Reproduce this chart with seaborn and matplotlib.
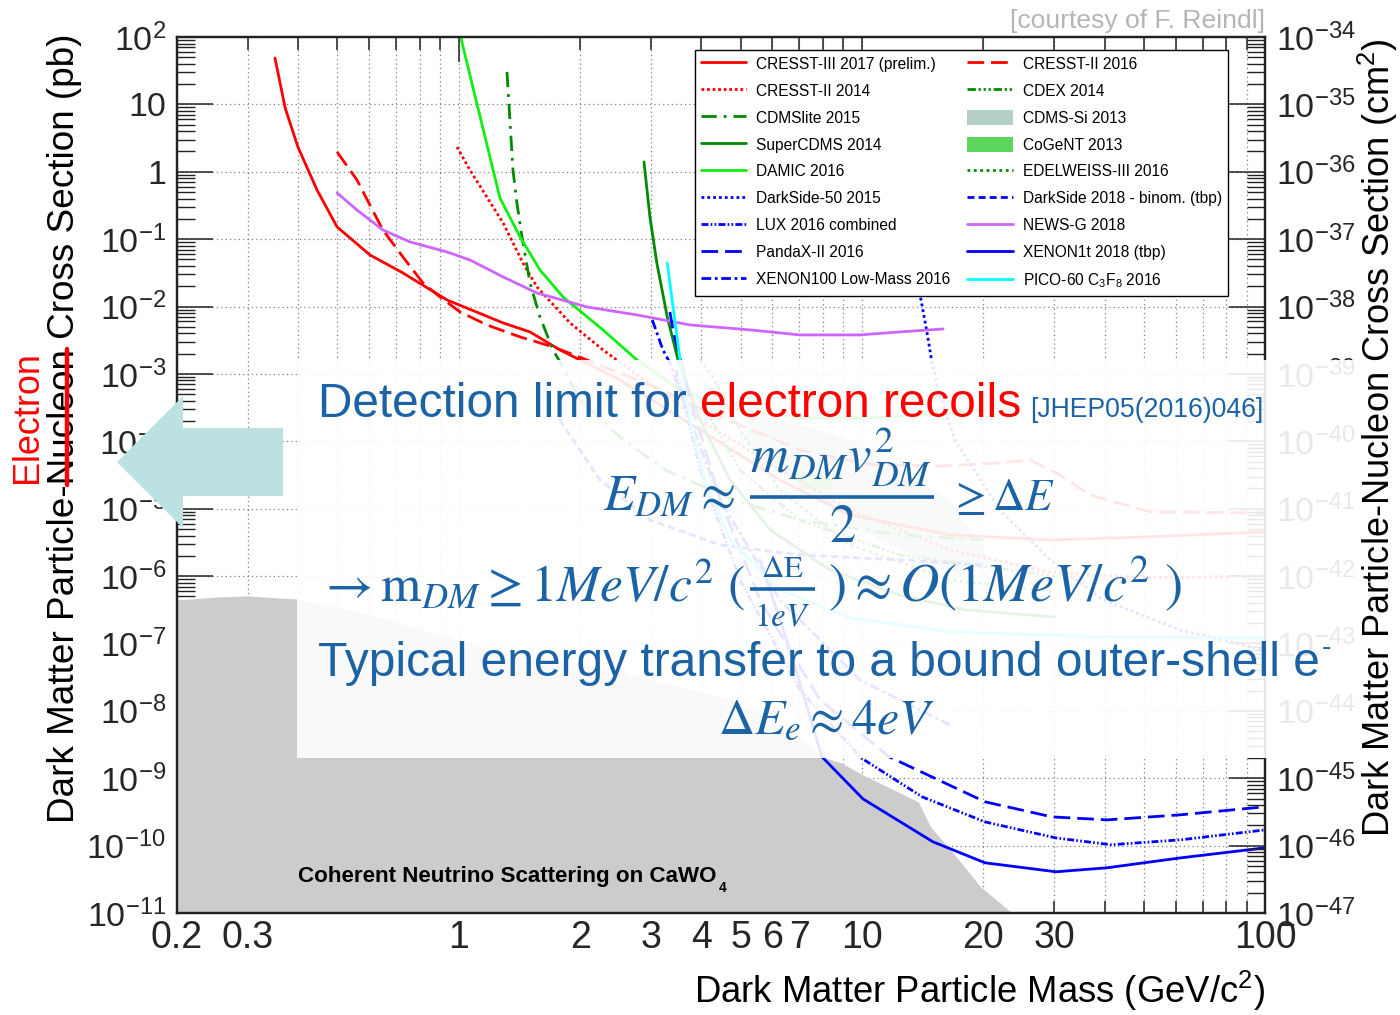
import numpy as np
import pandas as pd
import matplotlib
matplotlib.use("Agg")
import matplotlib.pyplot as plt
import seaborn as sns
from matplotlib import font_manager
from matplotlib.lines import Line2D
from matplotlib.patches import Patch, Polygon, Rectangle
from matplotlib.ticker import FixedLocator, FuncFormatter, LogLocator, NullFormatter

# ---------------- data (mass in GeV/c^2, cross section in pb) ----------------
cresst3_mass = [0.350, 0.371, 0.399, 0.445, 0.499, 0.602, 0.727, 0.935, 1.288, 1.502, 1.782, 2.51, 3.97, 6.26, 9.34, 16.5, 29.3, 51.8, 100]
cresst3_xsec = [48.8, 8.85, 2.33, 0.537, 0.152, 0.0583, 0.0315, 0.01253, 0.00571, 0.0042, 0.00227, 8.15e-4, 1.48e-4, 2.67e-5, 8.09e-6, 4.09e-6, 3.44e-6, 3.82e-6, 4.53e-6]

cresst2016_mass = [0.499, 0.559, 0.648, 0.727, 0.815, 0.898, 1.007, 1.175, 1.419, 1.713, 2.08, 2.98, 4.22, 7.02, 10.6, 15.7, 22.0, 26.1, 31.0, 36.8, 51.8, 100]
cresst2016_xsec = [1.97, 0.756, 0.137, 0.0544, 0.0224, 0.01387, 0.00832, 0.00533, 0.00354, 0.00252, 0.00161, 6.87e-4, 2.64e-4, 7.45e-5, 4.47e-5, 4.31e-5, 4.78e-5, 5.3e-5, 3.17e-5, 1.6e-5, 8.97e-6, 8.67e-6]

cresst2014_mass = [0.99, 1.066, 1.288, 1.443, 1.563, 1.888, 2.279, 2.815, 3.97, 6.26, 9.34, 16.5, 29.3, 51.8, 100]
cresst2014_xsec = [2.33, 1.06, 0.174, 0.0443, 0.01954, 0.00571, 0.00227, 9.02e-4, 2.08e-4, 3.76e-5, 9.6e-6, 2.45e-6, 1.15e-6, 9.4e-7, 1.0e-6]

damic_mass = [1.0, 1.265, 1.419, 1.59, 1.814, 2.279, 2.768, 3.54, 4.98, 7.02, 10.5, 15.6, 20.2]
damic_xsec = [130, 0.409, 0.108, 0.0349, 0.01387, 0.0045, 0.00161, 5.79e-4, 2.92e-4, 2.22e-4, 2.22e-4, 2.55e-4, 2.92e-4]

cdmslite_mass = [1.317, 1.363, 1.394, 1.435, 1.502, 1.59, 1.713, 1.782, 2.0, 2.51, 3.25, 4.82, 7.02, 12.4, 20.0]
cdmslite_xsec = [30.3, 1.06, 0.344, 0.108, 0.0224, 0.00701, 0.00227, 0.00151, 4.11e-4, 1.16e-4, 3.76e-5, 1.35e-5, 6.8e-6, 4.09e-6, 3.44e-6]

supercdms_mass = [2.88, 2.98, 3.10, 3.29, 3.50, 3.97, 4.71, 5.92, 8.33, 12.4, 18.0, 30.0]
supercdms_xsec = [1.40, 0.2135, 0.0443, 0.00701, 0.00161, 2.08e-4, 2.67e-5, 4.85e-6, 1.24e-6, 5.26e-7, 3.15e-7, 2.48e-7]

pico_mass = [3.29, 3.54, 3.75, 4.08, 4.71, 6.26, 9.34, 16.5, 39.0, 100]
pico_xsec = [0.0443, 0.00161, 2.08e-4, 2.67e-5, 3.44e-6, 6.24e-7, 2.4e-7, 1.49e-7, 1.25e-7, 1.21e-7]

xenon100_mass = [3.02, 3.21, 3.34, 3.75, 4.45, 6.26, 9.89, 16.5]
xenon100_xsec = [0.00633, 0.00227, 0.00146, 2.08e-4, 1.35e-5, 4.43e-7, 2.88e-8, 6.2e-9]

pandax_mass = [3.34, 3.40, 3.75, 4.45, 5.59, 7.87, 11.68, 20.2, 29.6, 40.6, 61.9, 100]
pandax_xsec = [0.00832, 0.0045, 4.11e-4, 1.35e-5, 4.43e-7, 1.46e-8, 2.08e-9, 4.47e-10, 2.67e-10, 2.41e-10, 2.87e-10, 3.77e-10]

lux_mass = [3.46, 3.97, 4.98, 7.02, 9.95, 14.1, 20.2, 30.3, 41.5, 61.9, 100]
lux_xsec = [0.00115, 3.76e-5, 8.8e-7, 2.05e-8, 2.01e-9, 5.3e-10, 2.25e-10, 1.3e-10, 1.03e-10, 1.22e-10, 1.71e-10]

xenon1t_mass = [5.59, 6.63, 7.22, 7.96, 10.06, 15.0, 20.2, 30.3, 40.6, 61.9, 100]
xenon1t_xsec = [1.74e-6, 8.0e-8, 1.46e-8, 2.08e-9, 4.94e-10, 1.14e-10, 5.56e-11, 4.09e-11, 4.69e-11, 6.59e-11, 9.27e-11]

ds50_mass = [13.6, 13.9, 14.5, 14.9, 15.5, 17.0, 22.0, 29.3, 39.6, 61.5, 100]
ds50_xsec = [0.0294, 0.0165, 0.0042, 0.00156, 5.6e-4, 1.05e-4, 9.6e-6, 1.74e-6, 4.43e-7, 1.59e-7, 8.0e-8]

ds2018_mass = [1.78, 2.24, 2.98, 4.45, 7.02, 12.4, 20.0]
ds2018_xsec = [2.07e-4, 2.67e-5, 6.8e-6, 2.9e-6, 2.06e-6, 1.74e-6, 1.47e-6]

edelweiss_mass = [3.97, 4.27, 4.98, 6.26, 9.34, 16.5, 30.0]
edelweiss_xsec = [0.00161, 9.0e-4, 1.48e-4, 1.9e-5, 2.9e-6, 8.8e-7, 5.83e-7]

cdex_mass = [3.97, 4.98, 7.02, 12.4, 30.0]
cdex_xsec = [4.11e-4, 3.76e-5, 6.8e-6, 2.06e-6, 1.0e-6]

newsg_mass = [0.499, 0.559, 0.648, 0.757, 0.935, 1.066, 1.288, 1.563, 2.08, 2.768, 3.75, 5.28, 7.02, 9.89, 12.4, 15.9]
newsg_xsec = [0.485, 0.271, 0.137, 0.0909, 0.0646, 0.0491, 0.0275, 0.0159, 0.00986, 0.0075, 0.00533, 0.0045, 0.00379, 0.00379, 0.0042, 0.00465]

cdmssi_mass = [5.28, 9.34, 16.5, 20.8, 17.5, 11.1, 7.02, 5.13]
cdmssi_xsec = [2.92e-4, 1.05e-4, 1.35e-5, 1.74e-6, 1.04e-6, 3.44e-6, 1.9e-5, 1.05e-4]

cogent_mass = [6.82, 8.33, 8.58, 7.02]
cogent_xsec = [3.76e-5, 2.86e-5, 1.77e-5, 2.04e-5]

nu_mass = [0.2, 0.2556, 0.300, 0.354, 0.397, 0.589, 1.09, 2.23, 4.71, 6.63, 7.96, 8.88, 10.06, 13.8, 14.8, 17.4, 19.7, 23.6]
nu_xsec = [4.43e-7, 4.91e-7, 5.08e-7, 4.75e-7, 4.59e-7, 2.75e-7, 9.5e-8, 4.35e-8, 1.51e-8, 5.2e-9, 2.08e-9, 1.69e-9, 1.12e-9, 4.47e-10, 1.9e-10, 6.15e-11, 2.45e-11, 1.0e-11]

x_major_ticks = [1, 10, 100]
x_minor_ticks = [0.2, 0.3, 0.4, 0.5, 0.6, 0.7, 0.8, 0.9, 2, 3, 4, 5, 6, 7, 8, 9, 20, 30, 40, 50, 60, 70, 80, 90]
x_labelled = [0.2, 0.3, 1, 2, 3, 4, 5, 6, 7, 10, 20, 30, 100]

legend_col1 = ['CRESST-III 2017 (prelim.)', 'CRESST-II 2014', 'CDMSlite 2015', 'SuperCDMS 2014',
               'DAMIC 2016', 'DarkSide-50 2015', 'LUX 2016 combined', 'PandaX-II 2016',
               'XENON100 Low-Mass 2016']
legend_col2 = ['CRESST-II 2016', 'CDEX 2014', 'CDMS-Si 2013', 'CoGeNT 2013', 'EDELWEISS-III 2016',
               'DarkSide 2018 - binom. (tbp)', 'NEWS-G 2018', 'XENON1t 2018 (tbp)',
               'PICO-60 C$_3$F$_8$ 2016']

curves = [
    ('CRESST-III 2017 (prelim.)', cresst3_mass, cresst3_xsec),
    ('CRESST-II 2016', cresst2016_mass, cresst2016_xsec),
    ('CRESST-II 2014', cresst2014_mass, cresst2014_xsec),
    ('CDEX 2014', cdex_mass, cdex_xsec),
    ('EDELWEISS-III 2016', edelweiss_mass, edelweiss_xsec),
    ('CDMSlite 2015', cdmslite_mass, cdmslite_xsec),
    ('DAMIC 2016', damic_mass, damic_xsec),
    ('SuperCDMS 2014', supercdms_mass, supercdms_xsec),
    ('DarkSide 2018 - binom. (tbp)', ds2018_mass, ds2018_xsec),
    ('DarkSide-50 2015', ds50_mass, ds50_xsec),
    ('NEWS-G 2018', newsg_mass, newsg_xsec),
    ('XENON100 Low-Mass 2016', xenon100_mass, xenon100_xsec),
    ('LUX 2016 combined', lux_mass, lux_xsec),
    ('PandaX-II 2016', pandax_mass, pandax_xsec),
    ('XENON1t 2018 (tbp)', xenon1t_mass, xenon1t_xsec),
    ('PICO-60 C$_3$F$_8$ 2016', pico_mass, pico_xsec),
]

# ---------------- styles ----------------
RED, DGREEN, LGREEN, BLUE, VIOLET, CYAN = '#ff0000', '#008a00', '#11ee11', '#0000ff', '#cc66ff', '#00ffff'
STYLE = {
    'CRESST-III 2017 (prelim.)': (RED, ''),
    'CRESST-II 2016': (RED, (6, 2.5)),
    'CRESST-II 2014': (RED, (1, 1)),
    'CDEX 2014': (DGREEN, (3, 1, 0.8, 1, 0.8, 1, 0.8, 1)),
    'EDELWEISS-III 2016': (DGREEN, (1, 1.3)),
    'CDMSlite 2015': (DGREEN, (5.5, 2.5, 1, 2.5)),
    'DAMIC 2016': (LGREEN, ''),
    'SuperCDMS 2014': (DGREEN, ''),
    'DarkSide 2018 - binom. (tbp)': (BLUE, (2.5, 1.5)),
    'DarkSide-50 2015': (BLUE, (1, 1.1)),
    'NEWS-G 2018': (VIOLET, ''),
    'XENON100 Low-Mass 2016': (BLUE, (3.5, 1.3, 1, 1.3)),
    'LUX 2016 combined': (BLUE, (2.5, 0.8, 0.6, 0.8, 0.6, 0.8)),
    'PandaX-II 2016': (BLUE, (6, 2.5)),
    'XENON1t 2018 (tbp)': (BLUE, ''),
    'PICO-60 C$_3$F$_8$ 2016': (CYAN, ''),
}
FILLS = {'CDMS-Si 2013': '#b3cfc6', 'CoGeNT 2013': '#5cd65c'}

# ---------------- fonts ----------------
sns.set_theme(style='white')


def have(name):
    try:
        font_manager.findfont(font_manager.FontProperties(family=name), fallback_to_default=False)
        return True
    except Exception:
        return False


ROOT_FONT = 'Liberation Sans' if have('Liberation Sans') else 'DejaVu Sans'
PPT_FONT = 'Liberation Sans Narrow' if have('Liberation Sans Narrow') else ROOT_FONT
plt.rcParams['font.family'] = [ROOT_FONT, 'DejaVu Sans']
plt.rcParams['mathtext.fontset'] = 'custom'
plt.rcParams['mathtext.rm'] = ROOT_FONT
plt.rcParams['mathtext.it'] = ROOT_FONT + ':italic'
plt.rcParams['mathtext.bf'] = ROOT_FONT + ':bold'
plt.rcParams['text.color'] = 'black'

W, H = 1400, 1015


def fx(px):
    return px / W


def fy(py):
    return 1 - py / H


fig = plt.figure(figsize=(W / 100, H / 100), dpi=100)
fig.patch.set_facecolor('white')
ax = fig.add_axes([fx(177), fy(913), 1088 / W, 876 / H])
ax.set_facecolor('white')

# ---------------- curves via seaborn ----------------
rows = []
for name, m, s in curves:
    for i, (a, b) in enumerate(zip(m, s)):
        rows.append((name, i, a, b))
df = pd.DataFrame(rows, columns=['experiment', 'order', 'mass', 'xsec'])
names = [c[0] for c in curves]
ax.set_xscale('log')
ax.set_yscale('log')

ax.fill_between(nu_mass, nu_xsec, 1e-12, color='#cccccc', lw=0, zorder=2)
ax.fill(cdmssi_mass, cdmssi_xsec, color=FILLS['CDMS-Si 2013'], lw=0, zorder=2.2)
ax.fill(cogent_mass, cogent_xsec, color=FILLS['CoGeNT 2013'], lw=0, zorder=2.3)

sns.lineplot(data=df, x='mass', y='xsec', hue='experiment', style='experiment',
             hue_order=names, style_order=names,
             palette={n: STYLE[n][0] for n in names},
             dashes={n: STYLE[n][1] for n in names},
             sort=False, estimator=None, legend=False, lw=2.0, ax=ax, zorder=3)

ax.set_xlim(0.2, 100)
ax.set_ylim(1e-11, 1e2)
ax.set_xlabel('')
ax.set_ylabel('')

# ---------------- ticks / grid ----------------
TICKC = '#222222'
ax.xaxis.set_major_locator(FixedLocator(x_major_ticks))
ax.xaxis.set_minor_locator(FixedLocator(x_minor_ticks))
xfmt = FuncFormatter(lambda v, p: ('%g' % v) if any(abs(v - l) < 1e-9 for l in x_labelled) else '')
ax.xaxis.set_major_formatter(xfmt)
ax.xaxis.set_minor_formatter(xfmt)
ax.yaxis.set_major_locator(LogLocator(base=10, numticks=100))
ax.yaxis.set_minor_locator(LogLocator(base=10, subs=np.arange(2, 10), numticks=100))
ax.yaxis.set_minor_formatter(NullFormatter())


def yfmt(v, p):
    e = int(round(np.log10(v)))
    if e == 1:
        return '10'
    if e == 0:
        return '1'
    return r'$\mathregular{10^{%d}}$' % e


ax.yaxis.set_major_formatter(FuncFormatter(yfmt))
ax.tick_params(axis='x', which='major', direction='in', length=18, width=1.1, top=True, bottom=True,
               labelsize=27, pad=5, color=TICKC)
ax.tick_params(axis='x', which='minor', direction='in', length=9, width=1.1, top=True, bottom=True,
               labelsize=27, pad=5, color=TICKC)
ax.tick_params(axis='y', which='major', direction='in', length=26, width=1.1, left=True, right=False,
               labelsize=24.5, pad=8, color=TICKC)
ax.tick_params(axis='y', which='minor', direction='in', length=13, width=1.0, left=True, right=False,
               color=TICKC)
ax.set_axisbelow(True)
gkw = dict(linestyle=(0, (1, 2.5)), color='#808080', linewidth=0.9)
ax.grid(True, which='major', axis='both', **gkw)
ax.grid(True, which='minor', axis='x', **gkw)
for sp in ax.spines.values():
    sp.set_linewidth(1.6)
    sp.set_color(TICKC)

ax2 = ax.twinx()
ax2.set_yscale('log')
ax2.set_ylim(1e-47, 1e-34)
ax2.yaxis.set_major_locator(LogLocator(base=10, numticks=100))
ax2.yaxis.set_minor_locator(LogLocator(base=10, subs=np.arange(2, 10), numticks=100))
ax2.yaxis.set_minor_formatter(NullFormatter())
ax2.yaxis.set_major_formatter(FuncFormatter(lambda v, p: r'$\mathregular{10^{%d}}$' % int(round(np.log10(v)))))
ax2.tick_params(axis='y', which='major', direction='in', length=26, width=1.1, right=True, left=False,
                labelsize=24.5, pad=8, color=TICKC)
ax2.tick_params(axis='y', which='minor', direction='in', length=13, width=1.0, right=True, left=False,
                color=TICKC)
ax2.grid(False)
for sp in ax2.spines.values():
    sp.set_linewidth(1.6)
    sp.set_color(TICKC)

# ---------------- legend ----------------


def handle(n):
    if n in FILLS:
        return Patch(facecolor=FILLS[n], edgecolor='none')
    c, d = STYLE[n]
    return Line2D([], [], color=c, lw=2.0, linestyle='-' if d == '' else (0, d))


labels = legend_col1 + legend_col2
leg = ax.legend([handle(n) for n in labels], labels, ncol=2, loc='upper left',
                bbox_to_anchor=(fx(695), fy(50)), bbox_transform=fig.transFigure,
                frameon=True, fancybox=False, edgecolor='black', framealpha=1, fontsize=11.2,
                handlelength=2.9, handleheight=1.1, handletextpad=0.65, columnspacing=1.1,
                labelspacing=0.72, borderpad=0.38, borderaxespad=0)
leg.get_frame().set_linewidth(1.0)
leg.set_zorder(10)

# ---------------- text helpers ----------------
R = fig.canvas.get_renderer()


def fit(t, target, along='w', iters=3):
    for _ in range(iters):
        bb = t.get_window_extent(renderer=R)
        cur = bb.width if along == 'w' else bb.height
        if cur > 0:
            t.set_fontsize(t.get_fontsize() * target / cur)
    return t


def measure(s, size, **kw):
    t = fig.text(0, 0, s, fontsize=size, **kw)
    w = t.get_window_extent(renderer=R).width
    t.remove()
    return w


# axis titles
ylab = fig.text(fx(65), fy(428.5), 'Dark Matter Particle-Nucleon Cross Section (pb)', rotation=90,
                ha='center', va='center', fontsize=22, zorder=20)
fit(ylab, 787, 'h')
ylab_bb = ylab.get_window_extent(renderer=R)
fs_y = ylab.get_fontsize()
w1 = measure('Dark Matter Particle-', fs_y)
w2 = measure('Nucleon', fs_y)
nuc0 = ylab_bb.y0 + w1
nuc1 = nuc0 + w2
fig.add_artist(Line2D([fx(67), fx(67)], [nuc0 / H, nuc1 / H], color='#ff0000', lw=3.2, zorder=21,
                      transform=fig.transFigure))
el = fig.text(fx(27), (nuc0 + nuc1) / 2 / H, 'Electron', rotation=90, ha='center', va='center',
              color='#ff0000', family=[PPT_FONT, 'DejaVu Sans'], fontsize=22, zorder=20)
fit(el, 132, 'h')

ylab2 = fig.text(fx(1378), fy(437.5), 'Dark Matter Particle-Nucleon Cross Section (cm$^{2}$)', rotation=90,
                 ha='center', va='center', fontsize=22, zorder=20)
fit(ylab2, 800, 'h')

xlab = fig.text(fx(1265), fy(1003), 'Dark Matter Particle Mass (GeV/c$^{2}$)', ha='right', va='baseline',
                fontsize=24, zorder=20)
fit(xlab, 571)

cour = fig.text(fx(1010), fy(21), '[courtesy of F. Reindl]', ha='left', va='center', color='#b5b5b5',
                fontsize=16, zorder=20)
fit(cour, 255)

nu_t = fig.text(fx(298), fy(882), 'Coherent Neutrino Scattering on CaWO', ha='left', va='baseline',
                fontsize=14, fontweight='bold', zorder=3)
fit(nu_t, 419)
nb = nu_t.get_window_extent(renderer=R)
fig.text((nb.x1 + 2) / W, fy(892), '4', ha='left', va='baseline', fontsize=nu_t.get_fontsize() * 0.62,
         fontweight='bold', zorder=3)

# ---------------- slide overlay ----------------
fig.add_artist(Rectangle((fx(297), fy(758)), (1362 - 297) / W, (758 - 360) / H, transform=fig.transFigure,
                         facecolor='white', edgecolor='none', alpha=0.9, zorder=8))

arrow_pts = [(117, 462), (183, 396), (183, 428), (283, 428), (283, 496), (183, 496), (183, 528)]
fig.add_artist(Polygon([(fx(a), fy(b)) for a, b in arrow_pts], closed=True, transform=fig.transFigure,
                       facecolor='#bde0e3', edgecolor='none', zorder=9))

TXT = '#1c63a5'
PPT = [PPT_FONT, 'DejaVu Sans']
full = fig.text(fx(318), fy(417), 'Detection limit for electron recoils', ha='left', va='baseline',
                family=PPT, fontsize=30, color=TXT, zorder=12)
fit(full, 704)
fs1 = full.get_fontsize()
wfull = full.get_window_extent(renderer=R).width
full.set_text('Detection limit for')
fig.text(fx(318) + wfull / W, fy(417), 'electron recoils', ha='right', va='baseline', family=PPT,
         fontsize=fs1, color='#ff0000', zorder=12)
jh = fig.text(fx(1030), fy(417), '[JHEP05(2016)046]', ha='left', va='baseline', family=PPT,
              fontsize=14, color=TXT, zorder=12)
fit(jh, 233)


def mtext(x, y, s, ha, target_w, size=30):
    t = fig.text(fx(x), fy(y), s, ha=ha, va='baseline', fontsize=size, color=TXT,
                 math_fontfamily='stix', zorder=12)
    fit(t, target_w)
    return t


def bar(x0, x1, y):
    fig.add_artist(Line2D([fx(x0), fx(x1)], [fy(y), fy(y)], color=TXT, lw=2.6, zorder=12,
                          transform=fig.transFigure, solid_capstyle='butt'))


# E_DM ~ m v^2 / 2 >= dE
mtext(603, 510, r'$E_{DM} \approx$', 'left', 132)
num1 = mtext(841, 473, r'$m_{DM}v_{DM}^{2}$', 'center', 182)
bar(750, 934, 497)
fig.text(fx(842), fy(542), r'$2$', ha='center', va='baseline', fontsize=num1.get_fontsize(), color=TXT,
         math_fontfamily='stix', zorder=12)
mtext(949, 510, r'$\geq \Delta E$', 'left', 106)

# -> m_DM >= 1MeV/c^2 (dE / 1eV) ~ O(1MeV/c^2)
mtext(318, 602, r'$\rightarrow\mathrm{m}_{DM} \geq 1MeV/c^{2}\ ($', 'left', 426)
mtext(782, 577, r'$\Delta\mathrm{E}$', 'center', 43)
bar(750, 815, 589)
mtext(782, 626, r'$1eV$', 'center', 56)
mtext(828, 602, r'$)\approx O(1MeV/c^{2}\ )$', 'left', 354)

t3 = fig.text(fx(318), fy(676), 'Typical energy transfer to a bound outer-shell e', ha='left',
              va='baseline', family=PPT, fontsize=30, color=TXT, zorder=12)
fit(t3, 1000)
b3 = t3.get_window_extent(renderer=R)
fig.text((b3.x1 + 2) / W, fy(692 - 36), '-', ha='left', va='baseline', family=PPT,
         fontsize=t3.get_fontsize() * 0.6, color=TXT, zorder=12)

mtext(718, 733, r'$\Delta E_{e} \approx 4eV$', 'left', 217)

fig.savefig('out.png', dpi=100, facecolor='white')
